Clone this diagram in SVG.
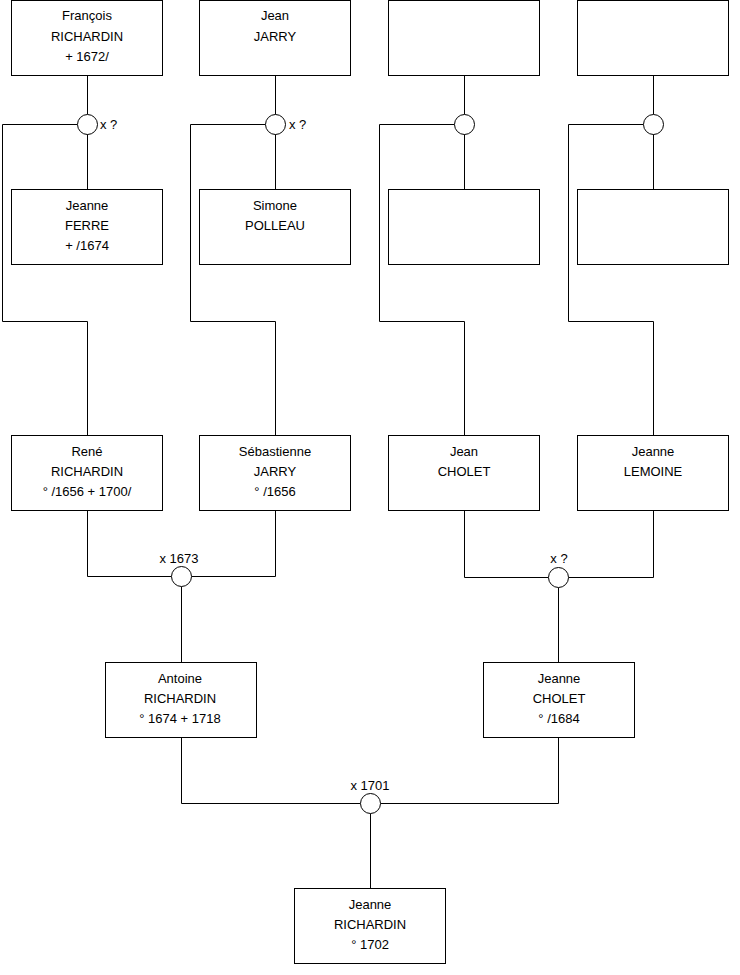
<svg xmlns="http://www.w3.org/2000/svg" width="740" height="975" viewBox="0 0 740 975">
<style>
rect.p{fill:#fff;stroke:#000;stroke-width:1}
circle.m{fill:#fff;stroke:#000;stroke-width:1}
.c path{fill:none;stroke:#000;stroke-width:1}
text{font-family:"Liberation Sans",Arial,sans-serif;font-size:13px;fill:#000}
.n text{text-anchor:middle}
</style>
<rect width="740" height="975" fill="#fff"/>
<g class="c" id="connectors">
<path d="M87.5 75.5V114.5M87.5 133.5V189.5M77.5 124.5H2.5V321.5H87.5V435.5"/>
<path d="M275.5 75.5V114.5M275.5 133.5V189.5M265.5 124.5H190.5V321.5H275.5V435.5"/>
<path d="M464.5 75.5V114.5M464.5 133.5V189.5M454.5 124.5H379.5V321.5H464.5V435.5"/>
<path d="M653.5 75.5V114.5M653.5 133.5V189.5M643.5 124.5H568.5V321.5H653.5V435.5"/>
<path d="M87.5 510.5V576.5H171.5M191.5 576.5H275.5V510.5M181.5 586.5V662.5"/>
<path d="M464.5 510.5V577.5H548.5M568.5 577.5H653.5V510.5M558.5 587.5V662.5"/>
<path d="M181.5 737.5V803.5H360.5M380.5 803.5H558.5V737.5M370.5 813.5V888.5"/>
</g>
<g id="marriages">
<g id="m1"><circle class="m" cx="87.5" cy="124.5" r="10"/><text x="100" y="128.5">x ?</text></g>
<g id="m2"><circle class="m" cx="275.5" cy="124.5" r="10"/><text x="289" y="128.5">x ?</text></g>
<g id="m3"><circle class="m" cx="464.5" cy="124.5" r="10"/></g>
<g id="m4"><circle class="m" cx="653.5" cy="124.5" r="10"/></g>
<g id="m5"><circle class="m" cx="181.5" cy="576.5" r="10"/><text x="179" y="563" text-anchor="middle">x 1673</text></g>
<g id="m6"><circle class="m" cx="558.5" cy="577.5" r="10"/><text x="559" y="563" text-anchor="middle">x ?</text></g>
<g id="m7"><circle class="m" cx="370.5" cy="803.5" r="10"/><text x="370" y="790" text-anchor="middle">x 1701</text></g>
</g>
<g class="n" id="francois"><rect class="p" x="11.5" y="0.5" width="151" height="75"/><text x="87" y="20">François</text><text x="87" y="40.5">RICHARDIN</text><text x="87" y="60.5">+ 1672/</text></g>
<g class="n" id="jean-jarry"><rect class="p" x="199.5" y="0.5" width="151" height="75"/><text x="275" y="20">Jean</text><text x="275" y="40.5">JARRY</text></g>
<g class="n" id="unknown1"><rect class="p" x="388.5" y="0.5" width="151" height="75"/></g>
<g class="n" id="unknown2"><rect class="p" x="577.5" y="0.5" width="151" height="75"/></g>
<g class="n" id="jeanne-ferre"><rect class="p" x="11.5" y="189.5" width="151" height="75"/><text x="87" y="209.5">Jeanne</text><text x="87" y="229.5">FERRE</text><text x="87" y="249.5">+ /1674</text></g>
<g class="n" id="simone"><rect class="p" x="199.5" y="189.5" width="151" height="75"/><text x="275" y="209.5">Simone</text><text x="275" y="229.5">POLLEAU</text></g>
<g class="n" id="unknown3"><rect class="p" x="388.5" y="189.5" width="151" height="75"/></g>
<g class="n" id="unknown4"><rect class="p" x="577.5" y="189.5" width="151" height="75"/></g>
<g class="n" id="rene"><rect class="p" x="11.5" y="435.5" width="151" height="75"/><text x="87" y="455.5">René</text><text x="87" y="475.5">RICHARDIN</text><text x="87" y="495.5">° /1656 + 1700/</text></g>
<g class="n" id="sebastienne"><rect class="p" x="199.5" y="435.5" width="151" height="75"/><text x="275" y="455.5">Sébastienne</text><text x="275" y="475.5">JARRY</text><text x="275" y="495.5">° /1656</text></g>
<g class="n" id="jean-cholet"><rect class="p" x="388.5" y="435.5" width="151" height="75"/><text x="464" y="455.5">Jean</text><text x="464" y="475.5">CHOLET</text></g>
<g class="n" id="jeanne-lemoine"><rect class="p" x="577.5" y="435.5" width="151" height="75"/><text x="653" y="455.5">Jeanne</text><text x="653" y="475.5">LEMOINE</text></g>
<g class="n" id="antoine"><rect class="p" x="105.5" y="662.5" width="151" height="75"/><text x="180" y="682.5">Antoine</text><text x="180" y="702.5">RICHARDIN</text><text x="180" y="722.5">° 1674 + 1718</text></g>
<g class="n" id="jeanne-cholet"><rect class="p" x="483.5" y="662.5" width="151" height="75"/><text x="559" y="682.5">Jeanne</text><text x="559" y="702.5">CHOLET</text><text x="559" y="722.5">° /1684</text></g>
<g class="n" id="jeanne-richardin"><rect class="p" x="294.5" y="888.5" width="151" height="75"/><text x="370" y="908.5">Jeanne</text><text x="370" y="928.5">RICHARDIN</text><text x="370" y="948.5">° 1702</text></g>
</svg>
